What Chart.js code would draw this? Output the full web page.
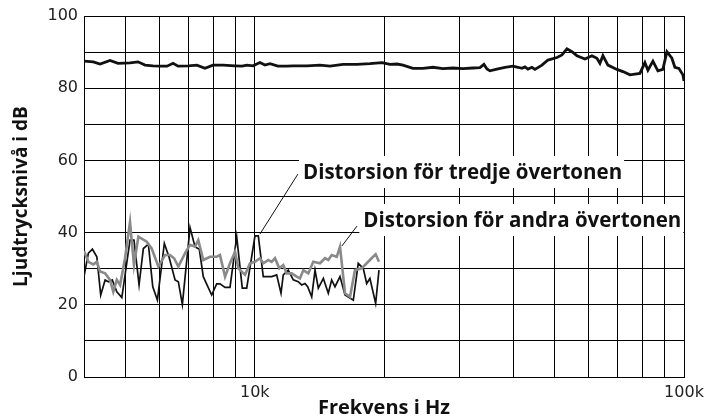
<!DOCTYPE html>
<html>
<head>
<meta charset="utf-8">
<script src="https://cdn.jsdelivr.net/npm/chart.js@4.4.1/dist/chart.umd.min.js"></script>
<style>
body{margin:0;background:#fff}
#wrap{width:720px;height:418px}
</style>
</head>
<body>
<div id="wrap"><canvas id="chart"></canvas></div>
<script>
// grundton, frekvensgang
let mainFreq = [4000,4205,4360,4600,4800,5120,5345,5550,5790,6015,6245,6450,6625,6990,7330,7655,7990,8430,8995,9335,9590,9905,
10280,10560,10850,11320,11885,12270,13230,14185,14970,16050,17300,18545,19785,20650,21440,22140,23360,24650,26010,27440,28960,
30550,32230,33465,34190,34750,35310,36660,38270,39940,41030,41920,42600,43290,44230,44950,46670,48195,50580,51960,53370,54820,
56300,58780,61020,62680,63700,64730,66480,69780,72070,74820,76840,78940,81080,82400,84640,86930,89290,91240,93710,95230,97300,99400,100000]
let mainLevel = [87.5,87.3,86.7,87.7,86.9,87.0,87.3,86.4,86.2,86.1,86.1,86.9,86.1,86.2,86.4,85.5,86.4,86.4,86.2,86.1,86.4,86.2,
87.1,86.4,86.8,86.1,86.1,86.2,86.2,86.4,86.1,86.6,86.6,86.8,87.1,86.6,86.7,86.4,85.5,85.5,85.8,85.4,85.6,
85.4,85.6,85.7,86.6,85.3,84.8,85.3,85.8,86.1,85.8,85.5,85.9,85.3,85.8,85.2,86.4,87.8,88.5,89.2,90.9,90.1,
89.0,88.1,89.0,88.3,86.9,89.0,86.4,85.2,84.6,83.7,83.9,84.1,87.1,85.0,87.5,84.8,85.2,90.1,88.3,85.8,85.5,83.7,82.0]

// andra overtonen (gra)
let secondFreq = [4000,4095,4205,4285,4360,4480,4600,4680,4770,4855,4985,5120,5230,5355,5600,5750,5960,6180,6345,6485,
6635,6880,7065,7255,7385,7585,7865,8150,8295,8525,8755,8995,9155,9490,9745,10010,10280,10465,10750,10950,
11145,11405,11650,11865,12190,12520,12745,12970,13325,13685,14185,14575,14835,15105,15520,15795,16225,16670,17115,17740,
18225,18715,19125,19470]
let secondLevel = [34.9,31.9,31.2,31.9,29.2,28.7,26.9,23.6,26.9,25.5,32.9,42.9,31.0,38.9,37.5,35.6,30.6,33.8,33.8,32.9,
30.6,34.3,36.6,36.1,37.9,32.4,33.3,33.3,33.8,27.8,31.5,34.7,30.1,28.3,31.5,31.9,32.9,31.5,32.4,31.9,
32.9,30.1,31.0,28.7,28.7,27.8,27.3,29.6,28.7,31.9,31.5,32.9,32.4,33.8,33.3,36.1,23.2,22.2,29.6,30.1,
31.5,32.9,34.0,31.9]

// tredje overtonen (svart, tunn)
let thirdFreq = [4000,4095,4185,4285,4375,4480,4560,4655,4770,4900,5120,5230,5375,5500,5650,5785,5930,6155,6310,6520,
6635,6780,7065,7255,7425,7585,7935,8150,8295,8525,8755,9075,9350,9575,10010,10190,10465,10950,11245,11510,
11650,11965,12295,12625,12860,13090,13280,13570,13815,14060,14445,14835,15105,15375,15795,16225,16965,17420,17895,18225,
18545,19125,19470]
let thirdLevel = [27.8,34.3,35.4,33.3,22.7,26.9,26.4,26.9,23.6,22.0,37.9,37.9,25.5,35.6,36.8,25.0,21.3,37.0,33.3,26.9,
26.4,20.1,41.4,36.1,35.4,27.8,22.7,25.8,25.8,24.8,24.8,38.9,24.6,24.6,39.1,39.1,27.8,27.8,28.3,23.2,
28.3,29.6,26.9,26.4,25.5,25.9,25.0,22.2,29.6,24.6,27.3,23.2,26.9,25.0,27.8,22.7,21.3,31.5,30.1,25.9,
27.3,20.4,29.6]

let xGrid = [5000,6000,7000,8000,9000,10000,20000,30000,40000,50000,60000,70000,80000,90000,100000]
let xLabels = {10000:"10k",100000:"100k"}
let yLabels = [0,20,40,60,80,100]

let notes = [
{text:"Distorsion för tredje övertonen", x:12950, y:56.8, from:[12600,56.2], to:[10280,39.6]},
{text:"Distorsion för andra övertonen", x:17900, y:43.5, from:[17300,41.8], to:[15960,36.3]}
]

function pts(f,v){
return f.map((x,i)=>({x:x,y:v[i]}))
}

const labelPlugin = {
id:"labels",
afterDatasetsDraw(chart){
const ctx = chart.ctx
const xs = chart.scales.x
const ys = chart.scales.y
ctx.save()
ctx.font = "bold 20.5px 'Open Sans'"
ctx.textBaseline = "middle"
notes.forEach(n=>{
let px = xs.getPixelForValue(n.x)
let py = ys.getPixelForValue(n.y)
let w = ctx.measureText(n.text).width
ctx.fillStyle = "#fff"
ctx.fillRect(px-4, py-16, w+6, 32)
ctx.fillStyle = "#111"
ctx.fillText(n.text, px, py+1)
ctx.strokeStyle = "#111"
ctx.lineWidth = 1
ctx.beginPath()
ctx.moveTo(xs.getPixelForValue(n.from[0]), ys.getPixelForValue(n.from[1]))
ctx.lineTo(xs.getPixelForValue(n.to[0]), ys.getPixelForValue(n.to[1]))
ctx.stroke()
})
ctx.restore()
}
}

new Chart(document.getElementById("chart"),{
type:"line",
data:{
datasets:[
{data:pts(mainFreq,mainLevel), borderColor:"#111", borderWidth:2.8},
{data:pts(secondFreq,secondLevel), borderColor:"#8a8a8a", borderWidth:2.6},
{data:pts(thirdFreq,thirdLevel), borderColor:"#111", borderWidth:1.7}
]
},
options:{
responsive:true,
maintainAspectRatio:false,
animation:false,
layout:{padding:{left:0,right:36,top:16,bottom:0}},
elements:{point:{radius:0},line:{tension:0}},
plugins:{legend:{display:false},tooltip:{enabled:false}},
scales:{
x:{
type:"logarithmic",
min:4000,
max:100000,
afterBuildTicks:s=>{s.ticks = xGrid.map(v=>({value:v}))},
afterFit:s=>{s.height = 41},
grid:{color:"#000", lineWidth:1, drawTicks:false},
border:{color:"#000", width:1},
ticks:{autoSkip:false, maxRotation:0, padding:6, color:"#222",
font:{family:"'DejaVu Sans'", size:16},
callback:v=>xLabels[v] || ""},
title:{display:true, text:"Frekvens i Hz", color:"#111",
font:{family:"'Open Sans'", size:20, weight:"bold", lineHeight:1}, padding:0}
},
y:{
min:0,
max:100,
afterFit:s=>{s.width = 84},
grid:{color:"#000", lineWidth:1, drawTicks:false},
border:{color:"#000", width:1},
ticks:{stepSize:5, padding:6, color:"#222",
font:{family:"'DejaVu Sans'", size:16},
callback:v=>yLabels.includes(v) ? String(v) : ""},
title:{display:true, text:"Ljudtrycksnivå i dB", color:"#111",
font:{family:"'Open Sans'", size:19, weight:"bold", lineHeight:1.2}, padding:{top:10}}
}
}
},
plugins:[labelPlugin]
})
</script>
</body>
</html>
